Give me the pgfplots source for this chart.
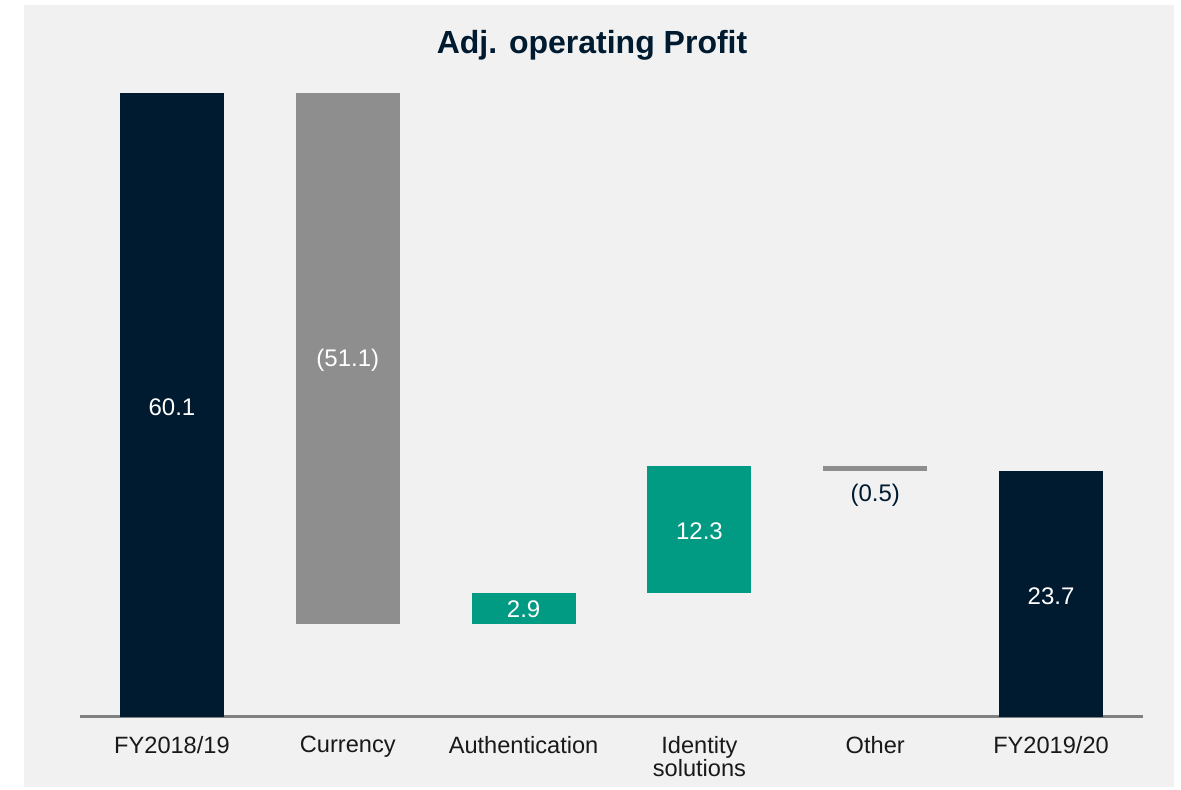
\documentclass[border=0pt]{standalone}
\usepackage{pgfplots}
\pgfplotsset{compat=1.18}
\usepackage{fontspec}
\setmainfont{Liberation Sans}
\definecolor{navy}{HTML}{001A30}
\definecolor{bargray}{HTML}{8E8E8E}
\definecolor{teal2}{HTML}{009B82}
\definecolor{panel}{HTML}{F1F1F1}
\definecolor{axgray}{HTML}{808080}
\begin{document}
\begin{tikzpicture}[x=0.5pt,y=0.5pt]
\fill[white] (0,0) rectangle (1181,790);
\fill[panel] (24,3) rectangle (1174,785);
\node[font=\fontsize{16}{19}\selectfont\bfseries, text=navy] at (592,745) {Adj. operating Profit};
\begin{axis}[
  at={(40pt,36.5pt)}, anchor=south west,
  scale only axis, width=531.5pt, height=312pt,
  xmin=-0.523, xmax=5.523, ymin=0, ymax=60.1,
  enlargelimits=false,
  hide y axis,
  axis x line*=bottom,
  x axis line style={-, draw=axgray, line width=1.5pt},
  xtick={0,1,2,3,4,5},
  xticklabels={\strut FY2018/19, \strut Currency, \strut Authentication, \strut Identity\\[-1.2pt]solutions, \strut Other, \strut FY2019/20},
  major tick length=0pt,
  xticklabel style={align=center, font=\fontsize{11.8}{11.5}\selectfont, text=black!90, yshift=-6pt},
  clip=false,
]
% waterfall bars: (start, end) per category, half width 0.296
\addplot[draw=none, fill=navy] coordinates {(-0.296,0) (-0.296,60.1) (0.296,60.1) (0.296,0)} -- cycle;
\addplot[draw=none, fill=bargray] coordinates {(0.704,9.0) (0.704,60.1) (1.296,60.1) (1.296,9.0)} -- cycle;
\addplot[draw=none, fill=teal2] coordinates {(1.704,9.0) (1.704,11.9) (2.296,11.9) (2.296,9.0)} -- cycle;
\addplot[draw=none, fill=teal2] coordinates {(2.704,11.9) (2.704,24.2) (3.296,24.2) (3.296,11.9)} -- cycle;
\addplot[draw=none, fill=bargray] coordinates {(3.704,23.7) (3.704,24.2) (4.296,24.2) (4.296,23.7)} -- cycle;
\addplot[draw=none, fill=navy] coordinates {(4.704,0) (4.704,23.7) (5.296,23.7) (5.296,0)} -- cycle;
\node[text=white, font=\fontsize{12}{13}\selectfont] at (axis cs:0,29.8) {60.1};
\node[text=white, font=\fontsize{12}{13}\selectfont] at (axis cs:1,34.4) {(51.1)};
\node[text=white, font=\fontsize{12}{13}\selectfont] at (axis cs:2,10.4) {2.9};
\node[text=white, font=\fontsize{12}{13}\selectfont] at (axis cs:3,17.9) {12.3};
\node[text=navy, font=\fontsize{12}{13}\selectfont] at (axis cs:4,21.4) {(0.5)};
\node[text=white, font=\fontsize{12}{13}\selectfont] at (axis cs:5,11.6) {23.7};
\end{axis}
\end{tikzpicture}
\end{document}
